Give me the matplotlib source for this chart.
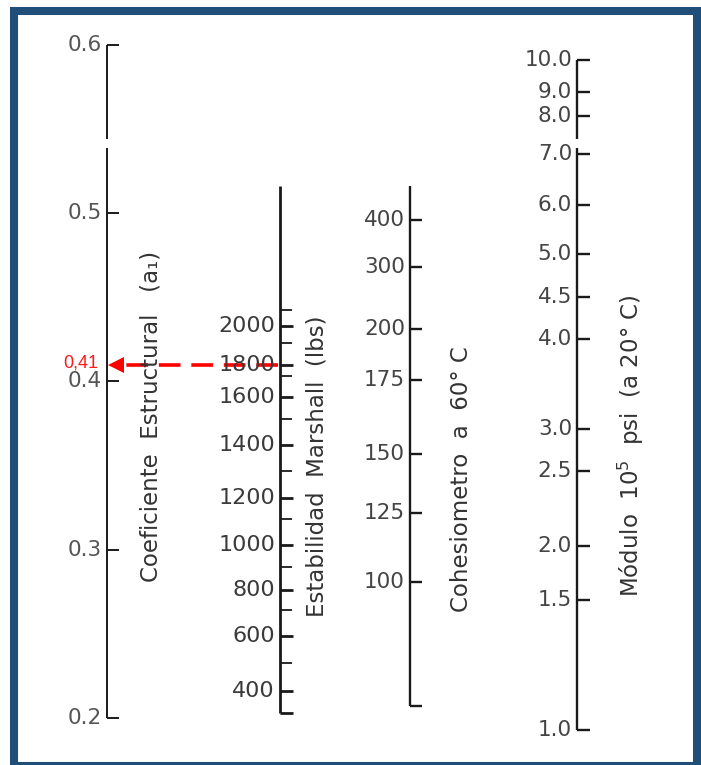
import matplotlib
matplotlib.use('Agg')
import matplotlib.pyplot as plt
from matplotlib.patches import Rectangle

# Nomograma: coeficiente estructural a1 de la carpeta asfaltica.
# Las escalas Marshall, cohesiometro y modulo se guardan por la
# posicion equivalente en a1 donde cae cada graduacion.

coef_vals = [0.6, 0.5, 0.4, 0.3, 0.2]
coef_labels = ['0.6', '0.5', '0.4', '0.3', '0.2']

# Estabilidad Marshall (lbs)
marshall_major = [2000, 1800, 1600, 1400, 1200, 1000, 800, 600, 400]
marshall_major_pos = [0.433, 0.410, 0.391, 0.362, 0.331, 0.303, 0.276, 0.249, 0.216]
marshall_minor = [2100, 1900, 1700, 1500, 1300, 1100, 900, 700, 500]
marshall_minor_pos = [0.4425, 0.423, 0.403, 0.378, 0.347, 0.318, 0.290, 0.264, 0.233]
marshall_range = [0.203, 0.516]

# Cohesiometro a 60 C
cohes_vals = [400, 300, 200, 175, 150, 125, 100]
cohes_pos = [0.496, 0.468, 0.431, 0.401, 0.357, 0.322, 0.281]
cohes_range = [0.207, 0.516]

# Modulo 10^5 psi (a 20 C)
mod_labels = ['10.0', '9.0', '8.0', '7.0', '6.0', '5.0', '4.5', '4.0',
              '3.0', '2.5', '2.0', '1.5', '1.0']
mod_pos = [0.591, 0.572, 0.558, 0.535, 0.505, 0.476, 0.450, 0.425,
           0.372, 0.347, 0.302, 0.270, 0.193]

# lectura de ejemplo
read_marshall = 1800
read_a1 = 0.41
read_label = '0,41'

W, H = 701, 765
fig = plt.figure(figsize=(W / 100, H / 100), dpi=100)
fig.patch.set_facecolor('white')
ax = fig.add_axes([0, 0, 1, 1])
ax.set_xlim(0, W)
ax.set_ylim(0.1721, 0.6267)
ax.axis('off')

INK = '#1a1a1a'
TXT = '#444444'
GAP = (0.539, 0.544)   # corte del escaneo en la parte alta


def draw_scale(x, lo, hi, ticks, labels, tick_len=12, lw=1.6, label_color=TXT,
               fontsize=15.5, gap=None, end_ticks=(), tick_lw=None):
    if gap is None:
        ax.plot([x, x], [lo, hi], color=INK, lw=lw, solid_capstyle='butt')
    else:
        ax.plot([x, x], [lo, gap[0]], color=INK, lw=lw, solid_capstyle='butt')
        ax.plot([x, x], [gap[1], hi], color=INK, lw=lw, solid_capstyle='butt')
    tlw = tick_lw or lw
    ax.hlines(ticks, x, x + tick_len, color=INK, lw=tlw)
    for e in end_ticks:
        ax.hlines(e, x, x + tick_len, color=INK, lw=tlw)
    for t, lab in zip(ticks, labels):
        ax.text(x - 5, t, lab, ha='right', va='center', fontsize=fontsize,
                color=label_color)


# Coeficiente estructural
draw_scale(107, min(coef_vals), max(coef_vals), coef_vals, coef_labels,
           lw=1.4, label_color='#555555', gap=GAP)

# Estabilidad Marshall
draw_scale(280, marshall_range[0], marshall_range[1], marshall_major_pos,
           [str(v) for v in marshall_major], tick_len=13, lw=2.0,
           end_ticks=[marshall_range[0]], fontsize=16, label_color='#3a3a3a')
ax.hlines(marshall_minor_pos, 280, 292, color=INK, lw=1.3)

# Cohesiometro
draw_scale(410, cohes_range[0], cohes_range[1], cohes_pos,
           [str(v) for v in cohes_vals], lw=1.7, end_ticks=[cohes_range[0]])

# Modulo
draw_scale(577, min(mod_pos), max(mod_pos), mod_pos, mod_labels,
           tick_len=13, lw=1.7, gap=GAP)

# titulos de escala (verticales)
title_kw = dict(rotation=90, ha='center', va='center', fontsize=16.5, color='#333333')
ax.text(151, 0.3795, 'Coeficiente  Estructural   (a₁)', **title_kw)
ax.text(317, 0.3498, 'Estabilidad  Marshall  (lbs)', **title_kw)
ax.text(462, 0.3420, 'Cohesiometro  a  60° C', **title_kw)
ax.text(631, 0.3617, r'Módulo  10$^5$  psi  (a 20° C)', **title_kw)

# flecha de lectura
y_read = marshall_major_pos[marshall_major.index(read_marshall)]
ax.plot([278, 122], [y_read, read_a1], color='#ff0000', lw=2.6,
        dashes=(6, 3))
ax.plot([115.5], [read_a1], marker='<', color='#ff0000', markersize=11,
        markeredgewidth=0)
ax.text(98, read_a1 + 0.0012, read_label, ha='right', va='center', fontsize=13,
        color='#ff1a1a', family='Liberation Sans')

# marco azul
fig.add_artist(Rectangle((14 / W, 1 - 766 / H), (697 - 14) / W, (766 - 11) / H,
                         fill=False, lw=5.8, ec='#1f4e79',
                         transform=fig.transFigure))

fig.savefig('out.png', dpi=100, facecolor='white')
